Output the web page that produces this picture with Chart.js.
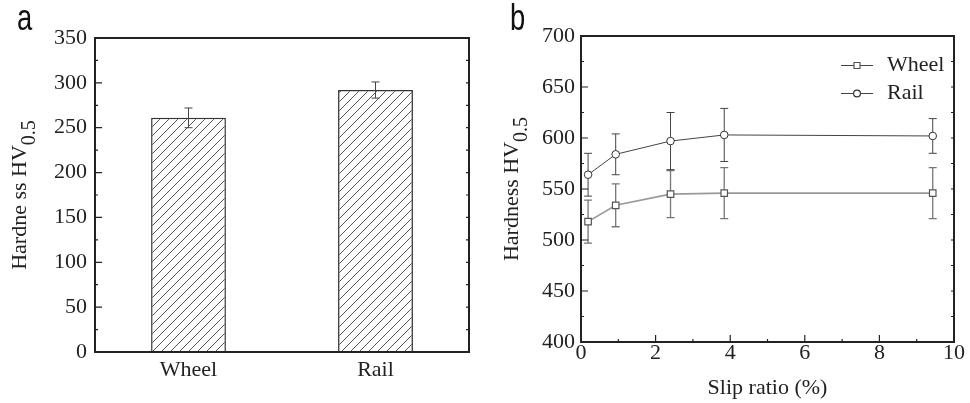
<!DOCTYPE html>
<html>
<head>
<meta charset="utf-8">
<script src="https://cdn.jsdelivr.net/npm/chart.js@4.4.1/dist/chart.umd.min.js"></script>
<style>
html, body { margin: 0; padding: 0; background: #fff; }
#wrap { position: relative; width: 970px; height: 403px; }
.panel { position: absolute; top: 0; width: 485px; height: 403px; }
</style>
</head>
<body>
<div id="wrap">
  <div class="panel" style="left:0"><canvas id="chartA"></canvas></div>
  <div class="panel" style="left:485px"><canvas id="chartB"></canvas></div>
</div>
<script>
// panel a - base hardness
const materials = ["Wheel", "Rail"];
const baseHardness = [261, 292];
const baseHardnessErr = [11, 9];
const yTicksA = [0, 50, 100, 150, 200, 250, 300, 350];

// panel b - hardness vs slip ratio
const slipRatio = [0.19, 0.93, 2.4, 3.84, 9.43];
const wheelHV = [518, 534, 545, 546, 546];
const wheelErr = [21, 21, 23, 25, 25];
const railHV = [564, 584, 597, 603, 602];
const railErr = [21, 20, 28, 26, 17];
const xTicksB = [0, 2, 4, 6, 8, 10];
const yTicksB = [400, 450, 500, 550, 600, 650, 700];

const SERIF = "'Liberation Serif', 'Times New Roman', serif";
const INK = "#222";

function makeHatch() {
    const c = document.createElement("canvas");
    c.width = 9; c.height = 9;
    const g = c.getContext("2d");
    g.fillStyle = "#fff";
    g.fillRect(0, 0, 9, 9);
    g.strokeStyle = "#555";
    g.lineWidth = 1;
    g.beginPath();
    g.moveTo(-1, 10); g.lineTo(10, -1);
    g.stroke();
    return g.createPattern(c, "repeat");
}

// box around the plot + inward tick marks
function frameTicks(yTicks, xTicks) {
    return {
        id: "frameTicks",
        afterDatasetsDraw(chart) {
            const {ctx, chartArea: a, scales} = chart;
            ctx.save();
            ctx.strokeStyle = INK;
            ctx.lineWidth = 1.2;
            ctx.beginPath();
            yTicks.forEach((v, i) => {
                const y = scales.y.getPixelForValue(v);
                ctx.moveTo(a.left, y); ctx.lineTo(a.left + 7, y);
                ctx.moveTo(a.right, y); ctx.lineTo(a.right - 3, y);
                if (i > 0) {
                    const m = scales.y.getPixelForValue((v + yTicks[i - 1]) / 2);
                    ctx.moveTo(a.left, m); ctx.lineTo(a.left + 3, m);
                    ctx.moveTo(a.right, m); ctx.lineTo(a.right - 3, m);
                }
            });
            if (xTicks) {
                xTicks.forEach((v, i) => {
                    const x = scales.x.getPixelForValue(v);
                    ctx.moveTo(x, a.bottom); ctx.lineTo(x, a.bottom - 7);
                    if (i > 0) {
                        const m = scales.x.getPixelForValue((v + xTicks[i - 1]) / 2);
                        ctx.moveTo(m, a.bottom); ctx.lineTo(m, a.bottom - 3);
                    }
                });
            }
            ctx.stroke();
            ctx.lineWidth = 2;
            ctx.strokeRect(a.left, a.top, a.right - a.left, a.bottom - a.top);
            ctx.restore();
        }
    };
}

function drawErrors(chart) {
    const ctx = chart.ctx;
    const ys = chart.scales.y;
    chart.data.datasets.forEach((ds, i) => {
        if (!ds.errorBars) return;
        const meta = chart.getDatasetMeta(i);
        ctx.save();
        ctx.strokeStyle = ds.errorColor || "#444";
        ctx.lineWidth = ds.errorWidth || 1;
        ctx.beginPath();
        meta.data.forEach((el, j) => {
            const raw = ds.data[j];
            const v = typeof raw === "number" ? raw : raw.y;
            const e = ds.errorBars[j];
            const x = el.x;
            const y1 = ys.getPixelForValue(v + e);
            const y2 = ys.getPixelForValue(v - e);
            ctx.moveTo(x, y1); ctx.lineTo(x, y2);
            ctx.moveTo(x - 4, y1); ctx.lineTo(x + 4, y1);
            ctx.moveTo(x - 4, y2); ctx.lineTo(x + 4, y2);
        });
        ctx.stroke();
        ctx.restore();
    });
}

const errorsAfter = { id: "errorsAfter", afterDatasetsDraw: drawErrors };
const errorsBefore = { id: "errorsBefore", beforeDatasetsDraw: drawErrors };

// y title with subscript, x title, panel letter
function titles(o) {
    return {
        id: "titles",
        afterDraw(chart) {
            const {ctx, chartArea: a} = chart;
            ctx.save();
            ctx.fillStyle = INK;
            ctx.textBaseline = "alphabetic";
            ctx.font = "22px " + SERIF;
            const mw = ctx.measureText(o.yText).width;
            ctx.font = "20px " + SERIF;
            const sw = ctx.measureText(o.ySub).width;
            const cy = (a.top + a.bottom) / 2;
            ctx.translate(o.yX, cy);
            ctx.rotate(-Math.PI / 2);
            ctx.font = "22px " + SERIF;
            ctx.textAlign = "left";
            ctx.fillText(o.yText, -(mw + sw) / 2, 0);
            ctx.font = "20px " + SERIF;
            ctx.fillText(o.ySub, -(mw + sw) / 2 + mw, 9);
            ctx.restore();

            if (o.xText) {
                ctx.save();
                ctx.fillStyle = INK;
                ctx.font = "22px " + SERIF;
                ctx.textAlign = "center";
                ctx.textBaseline = "middle";
                ctx.fillText(o.xText, (a.left + a.right) / 2, o.xY);
                ctx.restore();
            }

            ctx.save();
            ctx.fillStyle = "#111";
            ctx.font = "36px 'Liberation Sans', Arial, sans-serif";
            ctx.translate(o.tagX, 30);
            ctx.scale(0.76, 1);
            ctx.fillText(o.tag, 0, 0);
            ctx.restore();
        }
    };
}

// "—□— Wheel" style legend
const lineLegend = {
    id: "lineLegend",
    afterDraw(chart) {
        const ctx = chart.ctx;
        ctx.save();
        chart.data.datasets.forEach((ds, i) => {
            const y = 65.5 + i * 28;
            ctx.strokeStyle = "#444";
            ctx.lineWidth = 1;
            ctx.beginPath();
            ctx.moveTo(356, y); ctx.lineTo(388, y);
            ctx.stroke();
            ctx.fillStyle = "#fff";
            ctx.strokeStyle = ds.pointBorderColor;
            ctx.lineWidth = 1.2;
            ctx.beginPath();
            if (ds.pointStyle === "rect") {
                ctx.rect(369, y - 3, 6, 6);
            } else {
                ctx.arc(372, y, 3.4, 0, Math.PI * 2);
            }
            ctx.fill();
            ctx.stroke();
            ctx.fillStyle = INK;
            ctx.font = "22px " + SERIF;
            ctx.textBaseline = "middle";
            ctx.fillText(ds.label, 402, y);
        });
        ctx.restore();
    }
};

const tickFont = { family: SERIF, size: 22, lineHeight: 1 };

new Chart(document.getElementById("chartA"), {
    type: "bar",
    data: {
        labels: materials,
        datasets: [{
            data: baseHardness,
            errorBars: baseHardnessErr,
            errorColor: "#444",
            backgroundColor: makeHatch(),
            borderColor: "#333",
            borderWidth: 1.5,
            barPercentage: 0.4,
            categoryPercentage: 1
        }]
    },
    options: {
        responsive: true,
        maintainAspectRatio: false,
        animation: false,
        devicePixelRatio: 1,
        layout: { padding: { top: 38, right: 16, left: 0, bottom: 0 } },
        plugins: { legend: { display: false }, tooltip: { enabled: false } },
        scales: {
            x: {
                grid: { display: false, drawTicks: false },
                border: { display: false },
                ticks: { font: tickFont, color: INK, padding: 7 },
                afterFit(s) { s.height = 51; }
            },
            y: {
                min: 0, max: 350,
                grid: { display: false, drawTicks: false },
                border: { display: false },
                ticks: { font: tickFont, color: INK, padding: 8 },
                afterBuildTicks(s) { s.ticks = yTicksA.map(v => ({ value: v })); },
                afterFit(s) { s.width = 95; }
            }
        }
    },
    plugins: [frameTicks(yTicksA, null), errorsAfter,
              titles({ yText: "Hardne ss HV", ySub: "0.5", yX: 26, tag: "a", tagX: 17 })]
});

new Chart(document.getElementById("chartB"), {
    type: "line",
    data: {
        datasets: [{
            label: "Wheel",
            data: slipRatio.map((x, i) => ({ x: x, y: wheelHV[i] })),
            errorBars: wheelErr,
            errorColor: "#777",
            errorWidth: 1.3,
            borderColor: "#999",
            borderWidth: 1.6,
            pointStyle: "rect",
            pointRadius: 4.6,
            pointBackgroundColor: "#fff",
            pointBorderColor: "#555",
            pointBorderWidth: 1.2
        }, {
            label: "Rail",
            data: slipRatio.map((x, i) => ({ x: x, y: railHV[i] })),
            errorBars: railErr,
            errorColor: "#444",
            errorWidth: 1,
            borderColor: "#444",
            borderWidth: 1,
            pointStyle: "circle",
            pointRadius: 3.8,
            pointBackgroundColor: "#fff",
            pointBorderColor: "#333",
            pointBorderWidth: 1
        }]
    },
    options: {
        responsive: true,
        maintainAspectRatio: false,
        animation: false,
        devicePixelRatio: 1,
        layout: { padding: { top: 36, right: 16, left: 0, bottom: 0 } },
        plugins: { legend: { display: false }, tooltip: { enabled: false } },
        scales: {
            x: {
                type: "linear",
                min: 0, max: 10,
                grid: { display: false, drawTicks: false },
                border: { display: false },
                ticks: { font: tickFont, color: INK, padding: 0 },
                afterBuildTicks(s) { s.ticks = xTicksB.map(v => ({ value: v })); },
                afterFit(s) { s.height = 61; }
            },
            y: {
                min: 400, max: 700,
                grid: { display: false, drawTicks: false },
                border: { display: false },
                ticks: { font: tickFont, color: INK, padding: 6 },
                afterBuildTicks(s) { s.ticks = yTicksB.map(v => ({ value: v })); },
                afterFit(s) { s.width = 96; }
            }
        }
    },
    plugins: [errorsBefore, frameTicks(yTicksB, xTicksB), lineLegend,
              titles({ yText: "Hardness HV", ySub: "0.5", yX: 33, xText: "Slip ratio (%)", xY: 388, tag: "b", tagX: 25 })]
});
</script>
</body>
</html>
